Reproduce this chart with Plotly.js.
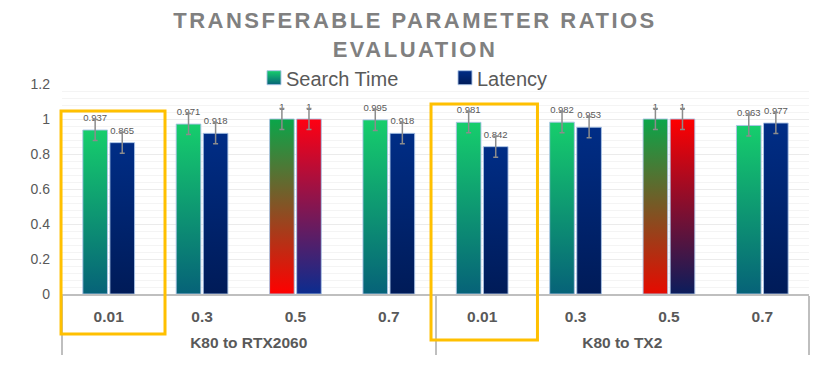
<!DOCTYPE html>
<html>
<head>
<meta charset="utf-8">
<script src="https://cdn.plot.ly/plotly-3.0.1.min.js"></script>
<style>
  html, body { margin: 0; padding: 0; background: #ffffff; }
  #chart { width: 830px; height: 379px; }
</style>
</head>
<body>
<div id="chart"></div>
<script>
// ---- data ----
const groups = ['K80 to RTX2060', 'K80 to RTX2060', 'K80 to RTX2060', 'K80 to RTX2060',
                'K80 to TX2', 'K80 to TX2', 'K80 to TX2', 'K80 to TX2'];
const ratios = ['0.01', '0.3', '0.5', '0.7', '0.01', '0.3', '0.5', '0.7'];
const searchTime = [0.937, 0.971, 1, 0.995, 0.981, 0.982, 1, 0.963];
const latency    = [0.865, 0.918, 1, 0.918, 0.842, 0.953, 1, 0.977];
const errorSize = 0.06;

// ---- styles (gradient colours per bar: [top, bottom]) ----
const searchGrad = [
  ['#16CE6C', '#066278'], ['#16CE6C', '#066278'], ['#0AA64A', '#FF0000'], ['#16CE6C', '#066278'],
  ['#16CE6C', '#066278'], ['#16CE6C', '#066278'], ['#0AA64A', '#E60A00'], ['#16CE6C', '#066278']
];
const latencyGrad = [
  ['#002D86', '#001B58'], ['#002D86', '#001B58'], ['#FF0012', '#0B2C8F'], ['#002D86', '#001B58'],
  ['#002D86', '#001B58'], ['#002D86', '#001B58'], ['#FF0000', '#0B1D5C'], ['#002D86', '#001B58']
];
const legendGrad = [['#16CE6C', '#066278'], ['#002D86', '#001B58']];

const FONT = 'Liberation Sans, Arial, Helvetica, sans-serif';

function barTrace(name, values, color) {
  return {
    type: 'bar',
    name: name,
    x: [groups, ratios],
    y: values,
    marker: { color: color, line: { color: 'rgba(170,195,230,0.9)', width: 1 } },
    error_y: { type: 'constant', value: errorSize, color: '#8C8C8C', thickness: 1.5, width: 2.5 },
    texttemplate: '%{y}',
    textposition: 'outside',
    textangle: 0,
    constraintext: 'none',
    cliponaxis: false,
    textfont: { family: FONT, size: 9.5, color: '#595959' },
    hoverinfo: 'y+name'
  };
}

const data = [
  barTrace('Search Time', searchTime, '#16CE6C'),
  barTrace('Latency', latency, '#002D86')
];

const layout = {
  width: 830,
  height: 379,
  margin: { l: 62, r: 21, t: 84, b: 85 },
  paper_bgcolor: '#ffffff',
  plot_bgcolor: '#ffffff',
  font: { family: FONT, color: '#595959' },
  title: {
    text: 'TRANSFERABLE PARAMETER RATIOS<br>EVALUATION',
    font: { family: FONT, size: 22, color: '#808080', weight: 'bold' },
    x: 0.5, xanchor: 'center',
    y: 0.926, yanchor: 'top', yref: 'container'
  },
  barmode: 'group',
  bargap: 0.42,
  bargroupgap: 0.09,
  showlegend: true,
  legend: {
    orientation: 'h',
    x: 0.502, xanchor: 'center',
    y: 1.03, yanchor: 'middle',
    font: { family: FONT, size: 20, color: '#595959' },
    entrywidthmode: 'pixels',
    entrywidth: 146,
    bgcolor: 'rgba(0,0,0,0)'
  },
  xaxis: {
    type: 'multicategory',
    showline: true,
    linecolor: '#BFBFBF',
    linewidth: 2,
    showgrid: false,
    ticks: '',
    ticklabelstandoff: 7,
    tickfont: { family: FONT, size: 15.5, color: '#595959', weight: 'bold' },
    showdividers: true,
    dividercolor: '#BFBFBF',
    dividerwidth: 1.5
  },
  yaxis: {
    range: [0, 1.2],
    dtick: 0.2,
    tick0: 0,
    showgrid: true,
    gridcolor: '#EBEBEB',
    gridwidth: 1,
    zeroline: false,
    showline: false,
    ticks: '',
    ticklabelstandoff: 11,
    tickfont: { family: FONT, size: 14, color: '#595959' },
    minor: { dtick: 0.04, showgrid: true, gridcolor: '#F4F4F4', gridwidth: 1 }
  },
  shapes: [
    { type: 'rect', xref: 'paper', yref: 'paper', x0: -0.0013, x1: 0.1379, y0: -0.1905, y1: 0.8714,
      line: { color: '#FFC000', width: 3 }, fillcolor: 'rgba(0,0,0,0)', layer: 'above' },
    { type: 'rect', xref: 'paper', yref: 'paper', x0: 0.494, x1: 0.6365, y0: -0.219, y1: 0.9048,
      line: { color: '#FFC000', width: 3 }, fillcolor: 'rgba(0,0,0,0)', layer: 'above' }
  ]
};

function applyStyling(gd) {
  const svgNS = 'http://www.w3.org/2000/svg';
  const svg = gd.querySelector('svg.main-svg');
  let defs = svg.querySelector('defs');
  if (!defs) { defs = document.createElementNS(svgNS, 'defs'); svg.insertBefore(defs, svg.firstChild); }
  function mkGrad(id, top, bottom) {
    let g = document.getElementById(id);
    if (g) g.remove();
    g = document.createElementNS(svgNS, 'linearGradient');
    g.setAttribute('id', id);
    g.setAttribute('x1', '0'); g.setAttribute('y1', '0');
    g.setAttribute('x2', '0'); g.setAttribute('y2', '1');
    const s1 = document.createElementNS(svgNS, 'stop');
    s1.setAttribute('offset', '0'); s1.setAttribute('stop-color', top);
    const s2 = document.createElementNS(svgNS, 'stop');
    s2.setAttribute('offset', '1'); s2.setAttribute('stop-color', bottom);
    g.appendChild(s1); g.appendChild(s2);
    defs.appendChild(g);
    return 'url(#' + id + ')';
  }
  const grads = [searchGrad, latencyGrad];
  gd.querySelectorAll('.barlayer .trace.bars').forEach(function (tr, ti) {
    tr.querySelectorAll('.point path').forEach(function (p, pi) {
      const c = grads[ti][pi];
      p.style.fill = mkGrad('bargrad-' + ti + '-' + pi, c[0], c[1]);
    });
    // value labels sit a little higher above the bars, as in the reference
    tr.querySelectorAll('text.bartext').forEach(function (t) {
      t.setAttribute('transform', ('translate(0,-4) ' + (t.getAttribute('transform') || '')).trim());
    });
  });
  // legend symbols: larger gradient squares closer to the text
  gd.querySelectorAll('.legend .traces').forEach(function (t, ti) {
    const p = t.querySelector('.legendpoints path');
    if (p) {
      p.style.fill = mkGrad('leggrad-' + ti, legendGrad[ti][0], legendGrad[ti][1]);
      p.setAttribute('d', 'M7,7H-7V-7H7Z');
      p.setAttribute('transform', 'translate(28,0)');
    }
  });
  const title = gd.querySelector('.gtitle');
  if (title) title.style.letterSpacing = '2.5px';

  // second-level category labels lower, dividers longer (as in reference)
  const svgRect = svg.getBoundingClientRect();
  gd.querySelectorAll('.xtick2').forEach(function (g) {
    g.setAttribute('transform', ((g.getAttribute('transform') || '') + ' translate(0,14)').trim());
  });
  gd.querySelectorAll('path.xdivider').forEach(function (p) {
    const r = p.getBoundingClientRect();
    const bottom = r.bottom - svgRect.top;
    const extra = 355 - bottom;
    const d = p.getAttribute('d');
    if (extra > 0 && d) {
      p.setAttribute('d', d.replace(/([vV])(-?[\d.]+)/, function (m, c, n) {
        return c + (parseFloat(n) + extra);
      }));
    }
  });
}

Plotly.newPlot('chart', data, layout, { displayModeBar: false, responsive: false })
  .then(applyStyling);
</script>
</body>
</html>
